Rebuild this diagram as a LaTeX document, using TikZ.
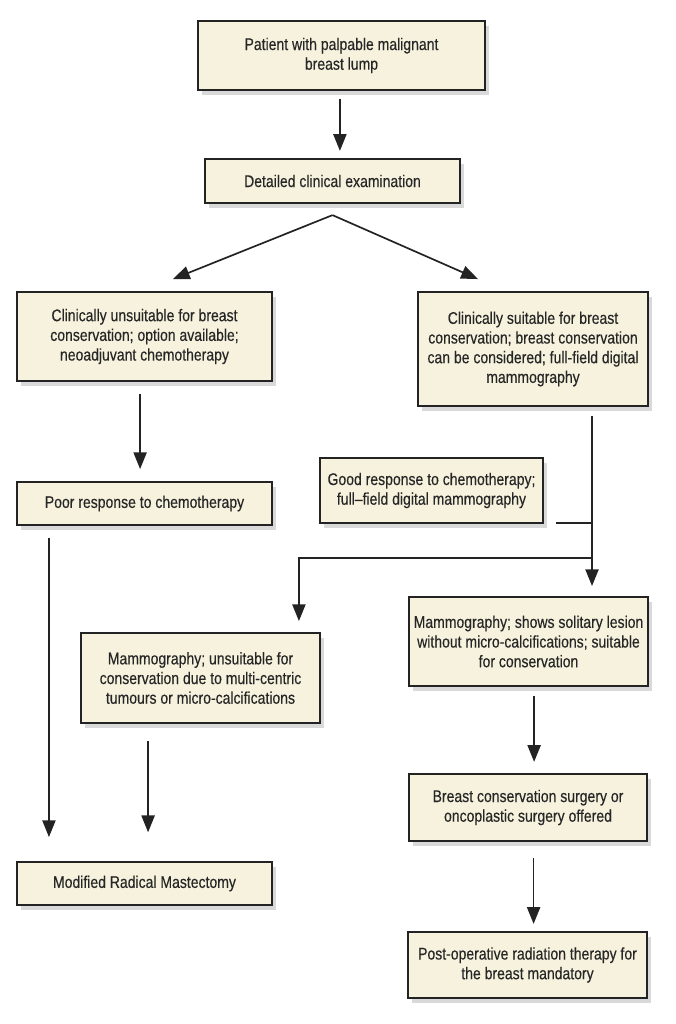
\documentclass[tikz,border=0pt]{standalone}
\usepackage{fontspec}
\setmainfont{Liberation Sans}[FakeStretch=0.83, FakeBold=0.3]
\usetikzlibrary{positioning, arrows.meta, shadows, calc}
\definecolor{cream}{RGB}{246,242,221}
\definecolor{edge}{RGB}{35,35,35}
\tikzset{
  stage/.style={
      rectangle,
      draw=edge,
      line width=1.3pt,
      fill=cream,
      align=center,
      inner sep=2pt,
      text=black!85,
      font=\fontsize{12}{14}\selectfont,
      drop shadow={shadow xshift=0.1cm, shadow yshift=-0.12cm, opacity=0.3}
    },
  arr/.style={
      -{Triangle[length=0.42cm,width=0.33cm]},
      line width=1.2pt,
      draw=edge
    },
  link/.style={
      line width=1.2pt,
      draw=edge
    }
}

\begin{document}
\begin{tikzpicture}[x=0.025cm, y=-0.025cm]
  \useasboundingbox (0,0) rectangle (676,1024);
  % boxes
  \node[stage, minimum width=7.175cm, minimum height=1.725cm] (patient) at (341.5,55.5) {Patient with palpable malignant\\breast lump};
  \node[stage, minimum width=6.375cm, minimum height=1.1cm] (exam) at (332.5,181) {Detailed clinical examination};
  \node[stage, minimum width=6.375cm, minimum height=2.225cm] (unsuit) at (144.5,336.5) {Clinically unsuitable for breast\\conservation; option available;\\neoadjuvant chemotherapy};
  \node[stage, minimum width=5.75cm, minimum height=2.85cm] (suit) at (533,349) {Clinically suitable for breast\\conservation; breast conservation\\can be considered; full-field digital\\mammography};
  \node[stage, minimum width=6.375cm, minimum height=1.075cm] (poor) at (144.5,503.5) {Poor response to chemotherapy};
  \node[stage, minimum width=5.575cm, minimum height=1.625cm] (good) at (431.5,490.5) {Good response to chemotherapy;\\full–field digital mammography};
  \node[stage, minimum width=5.975cm, minimum height=2.25cm] (mamunsuit) at (200.5,678) {Mammography; unsuitable for\\conservation due to multi-centric\\tumours or micro-calcifications};
  \node[stage, minimum width=5.975cm, minimum height=2.225cm] (mamsuit) at (528.5,641.5) {Mammography; shows solitary lesion\\without micro-calcifications; suitable\\for conservation};
  \node[stage, minimum width=5.95cm, minimum height=1.675cm] (surgery) at (528,807.5) {Breast conservation surgery or\\oncoplastic surgery offered};
  \node[stage, minimum width=6.375cm, minimum height=1.075cm] (mrm) at (144.5,883.5) {Modified Radical Mastectomy};
  \node[stage, minimum width=5.975cm, minimum height=1.65cm] (postop) at (527.5,965) {Post-operative radiation therapy for\\the breast mandatory};

  % connectors
  \draw[arr, shorten <=0.2cm, shorten >=0.18cm] ([xshift=-0.04cm]patient.south) -- ([xshift=-0.04cm]patient.south |- exam.north);
  \coordinate (split) at ([yshift=-0.28cm]exam.south);
  \draw[arr] (split) -- ([xshift=0.71cm,yshift=0.3cm]unsuit.north);
  \draw[arr] (split) -- ([xshift=-1.375cm,yshift=0.3cm]suit.north);
  \draw[arr, shorten <=0.3cm, shorten >=0.3cm] ([xshift=-0.11cm]unsuit.south) -- ([xshift=-0.11cm]unsuit.south |- poor.north);
  \draw[arr, shorten <=0.3cm, shorten >=0.6cm] ([xshift=-2.388cm]poor.south) -- ([xshift=-2.388cm]poor.south |- mrm.north);
  \coordinate (trunk) at ([xshift=1.475cm,yshift=-0.22cm]suit.south);
  \draw[arr, shorten >=0.25cm] (trunk) -- (trunk |- mamsuit.north);
  \coordinate (goodout) at ([xshift=0.3cm,yshift=0.03cm]good.south east);
  \draw[link] (goodout) -- (trunk |- goodout);
  \coordinate (fork) at ($(trunk |- goodout)+(0,35)$);
  \draw[arr, shorten >=0.275cm] (fork) -| ([xshift=2.46cm]mamunsuit.north);
  \draw[arr, shorten <=0.43cm, shorten >=0.72cm] ([xshift=-1.31cm]mamunsuit.south) -- ([xshift=-1.31cm]mamunsuit.south |- mrm.north);
  \draw[arr, shorten <=0.22cm, shorten >=0.28cm] ([xshift=0.14cm]mamsuit.south) -- ([xshift=0.14cm]mamsuit.south |- surgery.north);
  \draw[arr, shorten <=0.4cm, shorten >=0.18cm] ([xshift=0.14cm]surgery.south) -- ([xshift=0.14cm]surgery.south |- postop.north);
\end{tikzpicture}
\end{document}
